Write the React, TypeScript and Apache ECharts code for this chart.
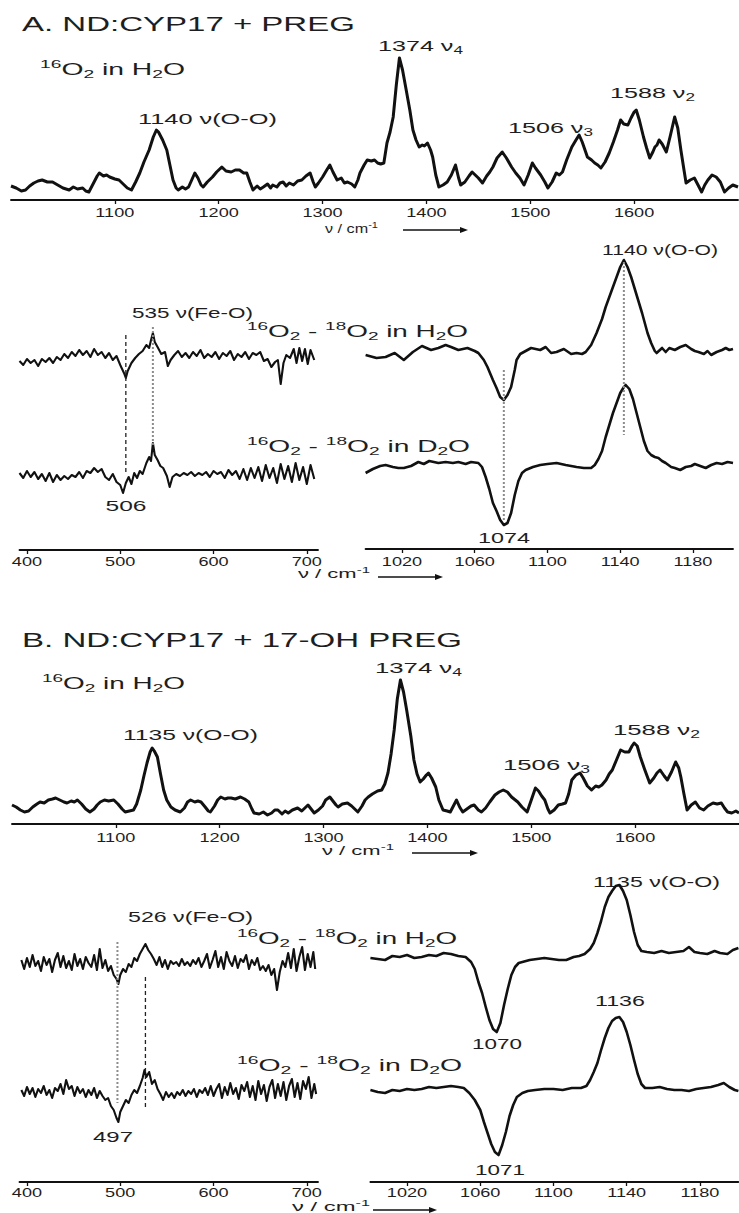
import React, { useEffect, useRef } from "react";
import * as echarts from "echarts";

const W = 739;
const H = 1213;
const FONT = '"Liberation Sans", Arial, Helvetica, sans-serif';

// ---------- tick values ----------
const ticksTop = [1100, 1200, 1300, 1400, 1500, 1600];
const ticksLow = [400, 500, 600, 700];
const ticksHigh = [1020, 1060, 1100, 1140, 1180];

// ---------- A: ND:CYP17 + PREG ----------
const aTop = [[1000,14],[1005,12],[1010,9],[1014,10],[1018,14],[1022,17],[1026,19],[1030,20],[1035,18],[1040,18],[1045,15],[1050,12],[1056,10],[1060,13],[1064,11],[1069,12],[1072,9],[1075,8],[1079,16],[1083,24],[1085,27],[1089,24],[1092,25],[1095,23],[1100,21],[1104,20],[1108,16],[1112,12],[1116,10],[1120,18],[1124,27],[1128,38],[1133,50],[1137,63],[1140,70],[1142,68],[1146,60],[1150,50],[1153,35],[1156,20],[1159,12],[1161,10],[1165,13],[1168,11],[1171,13],[1174,20],[1177,27],[1180,22],[1183,15],[1185,13],[1189,18],[1194,23],[1198,28],[1203,33],[1207,29],[1212,28],[1216,30],[1220,30],[1224,27],[1227,27],[1230,18],[1233,10],[1237,14],[1240,11],[1243,13],[1247,16],[1250,12],[1252,15],[1256,13],[1259,17],[1262,18],[1265,14],[1268,17],[1272,15],[1276,19],[1280,20],[1284,24],[1288,27],[1291,18],[1293,13],[1296,17],[1300,23],[1304,30],[1307,35],[1310,28],[1314,20],[1318,22],[1321,17],[1324,18],[1328,16],[1331,13],[1334,20],[1336,27],[1340,35],[1343,40],[1347,39],[1350,40],[1353,37],[1356,36],[1359,37],[1362,57],[1365,68],[1368,83],[1371,115],[1374,142],[1377,130],[1380,113],[1384,90],[1387,70],[1390,60],[1393,53],[1396,55],[1398,54],[1401,57],[1404,50],[1406,43],[1409,25],[1412,13],[1416,15],[1420,18],[1424,25],[1428,35],[1431,22],[1433,15],[1437,18],[1441,24],[1444,28],[1447,25],[1450,22],[1454,17],[1458,24],[1461,28],[1464,33],[1468,42],[1473,48],[1477,42],[1482,33],[1486,27],[1490,22],[1494,15],[1498,25],[1502,37],[1505,32],[1510,25],[1514,18],[1517,12],[1521,18],[1525,27],[1528,25],[1531,28],[1535,40],[1540,53],[1544,60],[1547,65],[1550,58],[1555,43],[1559,40],[1562,37],[1565,35],[1568,32],[1572,38],[1576,47],[1580,58],[1584,70],[1587,80],[1590,76],[1594,75],[1597,82],[1600,88],[1602,90],[1605,80],[1609,63],[1612,52],[1615,42],[1618,48],[1620,53],[1622,55],[1624,60],[1627,56],[1631,48],[1635,65],[1639,83],[1642,72],[1645,50],[1648,30],[1650,17],[1654,20],[1658,22],[1661,16],[1665,8],[1668,15],[1671,20],[1675,25],[1679,23],[1683,18],[1687,8],[1691,12],[1695,15],[1700,13]];

const aLowH2O = [[392,-4],[396,-8],[400,-2],[404,-6],[408,-3],[412,-9],[416,-2],[420,-5],[424,-1],[428,-6],[432,0],[436,-3],[440,3],[444,-1],[448,5],[452,1],[456,7],[460,2],[464,6],[468,0],[472,8],[476,2],[480,5],[484,-1],[488,4],[492,-3],[496,1],[500,-8],[504,-16],[506,-21],[508,-14],[512,-6],[516,-1],[520,3],[524,6],[528,12],[531,9],[533,17],[535,24],[537,15],[540,10],[544,3],[548,5],[551,-9],[554,-3],[558,2],[562,6],[566,0],[570,4],[574,-1],[578,5],[582,1],[586,7],[590,-1],[594,3],[598,0],[602,5],[606,-2],[610,4],[614,1],[618,6],[622,-3],[626,3],[630,0],[634,5],[638,-2],[642,4],[646,2],[650,5],[654,-4],[658,-2],[662,-10],[666,-5],[669,-3],[672,-27],[675,-6],[678,2],[682,-1],[686,8],[689,-6],[692,9],[695,-4],[698,8],[701,-7],[704,7],[708,-3]];

const aLowD2O = [[392,2],[396,-3],[400,4],[404,-2],[408,3],[412,-4],[416,1],[420,-6],[424,2],[428,-7],[432,0],[436,-5],[440,-1],[444,-4],[448,0],[452,-2],[456,3],[460,-3],[464,4],[468,2],[472,7],[476,3],[480,6],[484,-2],[488,-5],[492,1],[496,-7],[500,-10],[503,-18],[506,-8],[509,-2],[512,-9],[515,2],[518,-3],[521,4],[524,1],[528,12],[531,18],[533,14],[535,32],[537,20],[540,15],[543,9],[546,7],[550,-1],[553,-12],[556,-2],[560,1],[564,-1],[568,2],[572,0],[576,3],[580,-1],[584,2],[588,0],[592,3],[596,-2],[600,4],[604,1],[608,3],[612,-3],[616,5],[620,0],[624,4],[628,-4],[632,6],[636,-5],[640,7],[644,-3],[648,8],[652,-6],[656,10],[660,-3],[664,7],[668,-8],[672,11],[676,-4],[680,9],[684,-7],[688,12],[692,-5],[696,8],[700,-9],[704,10],[708,-4]];

const aHighH2O = [[1000,0],[1006,-3],[1011,-2],[1016,2],[1021,-5],[1026,3],[1031,9],[1036,5],[1040,7],[1044,10],[1047,8],[1051,5],[1056,7],[1060,4],[1062,2],[1065,-5],[1067,-12],[1070,-25],[1072,-33],[1074,-42],[1076,-45],[1078,-40],[1080,-32],[1082,-15],[1083,-5],[1085,1],[1087,3],[1091,7],[1096,5],[1099,8],[1102,2],[1105,3],[1109,6],[1113,1],[1116,2],[1119,1],[1121,3],[1124,10],[1127,22],[1130,36],[1132,48],[1135,63],[1138,78],[1140,88],[1142,95],[1144,88],[1146,78],[1149,60],[1152,42],[1155,22],[1157,12],[1159,4],[1160,2],[1163,7],[1165,3],[1167,7],[1170,5],[1173,8],[1176,10],[1179,6],[1181,4],[1183,3],[1186,1],[1188,4],[1190,0],[1193,3],[1196,5],[1198,7],[1200,5],[1202,6]];

const aHighD2O = [[1000,-8],[1004,-4],[1008,-1],[1011,0],[1015,-2],[1018,-3],[1021,-3],[1025,-1],[1029,3],[1032,1],[1035,4],[1040,2],[1044,3],[1048,2],[1051,3],[1055,1],[1058,3],[1062,2],[1064,-2],[1066,-12],[1068,-24],[1070,-38],[1072,-46],[1074,-55],[1076,-60],[1078,-58],[1080,-48],[1082,-30],[1084,-16],[1086,-8],[1088,-5],[1092,-2],[1096,0],[1100,1],[1105,2],[1110,0],[1116,-2],[1120,-3],[1124,-3],[1126,0],[1128,6],[1130,14],[1132,28],[1134,40],[1136,52],[1138,62],[1140,72],[1142,78],[1143,80],[1145,76],[1147,66],[1149,52],[1151,38],[1153,24],[1155,14],[1157,10],[1159,8],[1161,7],[1163,4],[1165,2],[1168,-2],[1170,-3],[1173,-5],[1176,-2],[1179,-1],[1181,1],[1184,-1],[1187,-3],[1190,0],[1193,2],[1196,1],[1199,3],[1202,2]];

// ---------- B: ND:CYP17 + 17-OH PREG ----------
const bTop = [[1000,19],[1004,17],[1008,14],[1012,12],[1016,13],[1020,17],[1024,20],[1027,22],[1031,21],[1035,24],[1039,25],[1042,26],[1046,24],[1050,22],[1053,21],[1057,23],[1060,22],[1063,24],[1067,20],[1071,15],[1075,12],[1079,15],[1082,19],[1085,22],[1089,24],[1093,23],[1098,24],[1102,20],[1106,15],[1109,12],[1113,13],[1117,14],[1120,20],[1124,34],[1127,48],[1130,61],[1133,72],[1135,76],[1137,73],[1140,67],[1143,50],[1146,34],[1149,24],[1153,17],[1157,14],[1162,12],[1166,16],[1169,22],[1172,24],[1176,22],[1179,23],[1182,22],[1186,17],[1189,13],[1191,12],[1195,18],[1198,24],[1201,27],[1205,25],[1208,26],[1211,26],[1215,25],[1220,27],[1224,25],[1228,22],[1231,15],[1233,11],[1238,10],[1242,12],[1246,9],[1250,11],[1253,14],[1256,14],[1260,10],[1263,13],[1266,11],[1270,14],[1275,16],[1279,13],[1282,16],[1285,19],[1288,15],[1291,11],[1295,14],[1299,18],[1302,24],[1306,27],[1309,23],[1312,19],[1314,17],[1318,20],[1323,21],[1327,18],[1330,15],[1333,12],[1337,18],[1340,24],[1343,27],[1347,30],[1352,33],[1356,34],[1359,40],[1362,51],[1365,70],[1368,94],[1371,125],[1374,144],[1377,132],[1380,114],[1384,88],[1387,64],[1390,50],[1393,42],[1396,45],[1399,49],[1401,51],[1404,46],[1408,37],[1411,24],[1415,14],[1419,13],[1422,12],[1425,18],[1428,24],[1431,17],[1434,12],[1438,15],[1442,18],[1445,19],[1449,14],[1452,12],[1456,16],[1460,22],[1465,29],[1469,32],[1473,34],[1477,32],[1481,27],[1487,22],[1491,17],[1496,12],[1500,24],[1504,36],[1507,33],[1510,28],[1513,24],[1516,15],[1518,11],[1522,14],[1526,19],[1530,20],[1533,21],[1536,30],[1539,44],[1543,49],[1547,51],[1550,46],[1554,38],[1558,34],[1562,38],[1565,37],[1568,39],[1572,44],[1575,50],[1578,54],[1582,64],[1586,74],[1590,72],[1594,72],[1597,78],[1599,81],[1602,78],[1605,67],[1609,55],[1614,41],[1618,46],[1621,51],[1624,54],[1628,48],[1631,44],[1635,52],[1639,62],[1642,56],[1644,47],[1647,30],[1650,14],[1654,19],[1658,22],[1662,16],[1666,14],[1670,18],[1675,21],[1679,20],[1683,21],[1686,16],[1689,12],[1693,11],[1697,13],[1700,11]];

const bLowH2O = [[394,3],[397,-6],[400,5],[403,-4],[406,8],[409,-3],[412,2],[415,-8],[418,6],[421,-2],[424,4],[427,-9],[430,3],[433,10],[436,-4],[439,7],[442,-5],[445,2],[448,-7],[451,9],[454,-3],[457,4],[460,-6],[463,6],[466,0],[469,-4],[472,8],[475,-7],[478,14],[481,-5],[484,3],[487,-8],[490,-3],[493,-12],[496,-16],[498,-21],[500,-12],[503,-6],[506,-9],[509,-1],[512,-4],[515,5],[518,2],[521,9],[524,14],[527,19],[530,13],[533,9],[536,4],[539,-2],[542,6],[545,-4],[548,3],[551,-6],[554,2],[557,-1],[560,1],[563,-3],[566,4],[569,-2],[572,1],[575,-3],[578,3],[581,-1],[584,5],[587,-4],[590,2],[593,9],[596,-5],[599,3],[602,12],[605,-4],[608,6],[611,-6],[614,11],[617,2],[620,-3],[623,7],[626,-5],[629,4],[632,1],[635,8],[638,-6],[641,3],[644,-2],[647,5],[650,-7],[653,-3],[656,-8],[659,-2],[662,-12],[665,-6],[668,-27],[671,-9],[674,2],[677,-4],[680,10],[683,-5],[686,14],[689,-8],[692,6],[695,16],[698,-7],[701,9],[704,-4],[707,11],[709,-6]];

const bLowD2O = [[394,2],[397,-4],[400,5],[403,-2],[406,4],[409,-5],[412,3],[415,-1],[418,6],[421,-3],[424,2],[427,-6],[430,4],[433,1],[436,8],[439,-2],[442,12],[445,3],[448,6],[451,-4],[454,5],[457,-1],[460,3],[463,-5],[466,2],[469,-3],[472,4],[475,-6],[478,1],[481,-4],[484,-8],[487,-6],[490,-14],[493,-18],[496,-26],[498,-30],[500,-20],[503,-14],[506,-8],[509,-11],[512,-3],[515,2],[518,-1],[521,6],[524,14],[526,22],[528,15],[531,20],[534,8],[537,12],[540,3],[543,-2],[546,-8],[549,0],[552,-5],[555,-1],[558,-6],[561,0],[564,-3],[567,2],[570,-4],[573,1],[576,-2],[579,3],[582,-5],[585,2],[588,-1],[591,4],[594,-3],[597,6],[600,-4],[603,3],[606,8],[609,-6],[612,5],[615,-3],[618,9],[621,-2],[624,4],[627,-7],[630,7],[633,1],[636,10],[639,-5],[642,6],[645,-8],[648,11],[651,-2],[654,7],[657,-9],[660,5],[663,12],[666,-6],[669,8],[672,-4],[675,10],[678,-8],[681,6],[684,13],[687,-5],[690,9],[693,-7],[696,11],[699,3],[702,15],[705,-6],[708,8],[710,-2]];

const bHighH2O = [[1000,-1],[1004,-2],[1008,-3],[1012,1],[1016,0],[1020,2],[1024,-1],[1028,0],[1032,2],[1036,1],[1040,4],[1044,3],[1048,1],[1052,0],[1055,-5],[1057,-12],[1059,-25],[1061,-36],[1063,-50],[1065,-63],[1067,-72],[1069,-75],[1071,-66],[1073,-48],[1075,-32],[1077,-18],[1079,-10],[1081,-6],[1083,-5],[1087,-3],[1091,-2],[1095,-1],[1099,-2],[1103,-3],[1107,-3],[1111,0],[1114,1],[1117,3],[1120,8],[1122,14],[1124,24],[1126,36],[1128,50],[1130,60],[1132,66],[1134,71],[1136,72],[1138,66],[1140,57],[1142,42],[1144,25],[1146,12],[1148,6],[1151,5],[1155,4],[1159,6],[1163,4],[1167,5],[1171,6],[1174,10],[1177,5],[1180,4],[1184,3],[1188,6],[1191,4],[1195,3],[1198,7],[1201,9]];

const bHighD2O = [[1000,0],[1004,-2],[1008,-3],[1012,0],[1016,-1],[1020,1],[1024,0],[1028,1],[1032,3],[1036,2],[1040,3],[1044,4],[1048,3],[1051,2],[1054,-3],[1057,-10],[1060,-20],[1062,-32],[1064,-43],[1066,-54],[1068,-62],[1070,-65],[1072,-55],[1074,-42],[1076,-26],[1078,-15],[1080,-7],[1083,-3],[1086,-1],[1090,0],[1095,1],[1100,1],[1105,0],[1110,2],[1115,2],[1118,4],[1120,10],[1122,18],[1124,27],[1126,40],[1128,52],[1130,62],[1132,69],[1134,72],[1136,73],[1138,68],[1140,58],[1142,45],[1144,30],[1146,16],[1148,6],[1150,2],[1154,2],[1158,3],[1162,1],[1166,0],[1170,0],[1174,-1],[1178,1],[1182,2],[1186,3],[1190,5],[1193,7],[1196,3],[1199,0],[1201,-1]];

// marked band positions (cm-1)
const markALow = [506, 535];
const markAHigh = [1076, 1142];
const markBLow = [497, 527];

// ---------- layout ----------
type G = { left: number; top: number; width: number; height: number; xmin: number; xmax: number; ymin: number; ymax: number; ticks?: number[]; labelDy?: number };
const GRIDS: G[] = [
  { left: 11, top: 40, width: 727, height: 160, xmin: 1000, xmax: 1700, ymin: 0, ymax: 160, ticks: ticksTop, labelDy: 13 },
  { left: 19.5, top: 317, width: 298.5, height: 80, xmin: 392, xmax: 712, ymin: -40, ymax: 40 },
  { left: 19.5, top: 425, width: 298.5, height: 125, xmin: 392, xmax: 712, ymin: -75, ymax: 50, ticks: ticksLow, labelDy: 12 },
  { left: 365.6, top: 250, width: 367.4, height: 160, xmin: 1000, xmax: 1202, ymin: -55, ymax: 105 },
  { left: 365.6, top: 375, width: 367.4, height: 174, xmin: 1000, xmax: 1202, ymin: -84, ymax: 90, ticks: ticksHigh, labelDy: 13 },
  { left: 12, top: 664, width: 727, height: 160, xmin: 1000, xmax: 1700, ymin: 0, ymax: 160, ticks: ticksTop, labelDy: 14 },
  { left: 19.5, top: 923, width: 298.5, height: 80, xmin: 392, xmax: 712, ymin: -40, ymax: 40 },
  { left: 19.5, top: 1042, width: 298.5, height: 140, xmin: 392, xmax: 712, ymin: -90, ymax: 50, ticks: ticksLow, labelDy: 11 },
  { left: 370.4, top: 870, width: 368, height: 175, xmin: 1000, xmax: 1201, ymin: -88, ymax: 87 },
  { left: 370.4, top: 1005, width: 368, height: 177, xmin: 1000, xmax: 1201, ymin: -92, ymax: 85, ticks: ticksHigh, labelDy: 11 },
];

const TRACES = [
  { data: aTop, g: 0, w: 3 },
  { data: aLowH2O, g: 1, w: 2.1 },
  { data: aLowD2O, g: 2, w: 2.1 },
  { data: aHighH2O, g: 3, w: 2.6 },
  { data: aHighD2O, g: 4, w: 2.6 },
  { data: bTop, g: 5, w: 3 },
  { data: bLowH2O, g: 6, w: 2.1 },
  { data: bLowD2O, g: 7, w: 2.1 },
  { data: bHighH2O, g: 8, w: 2.6 },
  { data: bHighD2O, g: 9, w: 2.6 },
];

const GRAY = { color: "#8c8c8c", dash: [2, 2], width: 2 };
const BLACK = { color: "#222", dash: [4, 3], width: 1.3 };
const DASHES = [
  { nu: markALow[0], g1: 1, v1: 22, g2: 2, v2: 0, s: BLACK },
  { nu: markALow[1], g1: 1, v1: 30, g2: 2, v2: 30, s: GRAY },
  { nu: markAHigh[0], g1: 3, v1: -15, g2: 4, v2: -55, s: GRAY },
  { nu: markAHigh[1], g1: 3, v1: 93, g2: 4, v2: 30, s: GRAY },
  { nu: markBLow[0], g1: 6, v1: 21, g2: 7, v2: -11, s: GRAY },
  { nu: markBLow[1], g1: 6, v1: -14, g2: 7, v2: -16, s: BLACK },
];

type L = { txt: string; left?: number; cx?: number; cy: number; size: number; width?: number; sx?: number };
const LABELS: L[] = [
  { txt: "A. ND:CYP17 + PREG", left: 22, cy: 24, size: 21, width: 333 },
  { txt: "^{16}O_{2} in H_{2}O", left: 40, cy: 69, size: 16, width: 145 },
  { txt: "1140 ν(O-O)", left: 138, cy: 119, size: 15, width: 139 },
  { txt: "1374 ν_{4}", left: 378, cy: 46, size: 15, width: 85 },
  { txt: "1506 ν_{3}", left: 508, cy: 128, size: 15, width: 85 },
  { txt: "1588 ν_{2}", left: 610, cy: 93, size: 15, width: 85 },
  { txt: "ν / cm^{-1}", left: 325, cy: 229, size: 12, width: 53 },
  { txt: "535 ν(Fe-O)", left: 132, cy: 313, size: 15, width: 121 },
  { txt: "^{16}O_{2} - ^{18}O_{2} in H_{2}O", left: 247, cy: 331, size: 16, width: 221 },
  { txt: "506", cx: 126, cy: 506, size: 15, width: 41 },
  { txt: "^{16}O_{2} - ^{18}O_{2} in D_{2}O", left: 247, cy: 446, size: 16, width: 223 },
  { txt: "ν / cm^{-1}", left: 298, cy: 574, size: 12, width: 72 },
  { txt: "1140 ν(O-O)", left: 602, cy: 250, size: 15, width: 116 },
  { txt: "1074", cx: 504, cy: 538, size: 15, width: 52 },
  { txt: "B. ND:CYP17 + 17-OH PREG", left: 22, cy: 640, size: 21, width: 440 },
  { txt: "^{16}O_{2} in H_{2}O", left: 42, cy: 683, size: 16, width: 143 },
  { txt: "1135 ν(O-O)", left: 123, cy: 735, size: 15, width: 135 },
  { txt: "1374 ν_{4}", left: 375, cy: 668, size: 15, width: 87 },
  { txt: "1506 ν_{3}", left: 503, cy: 765, size: 15, width: 87 },
  { txt: "1588 ν_{2}", left: 613, cy: 730, size: 15, width: 87 },
  { txt: "ν / cm^{-1}", left: 322, cy: 851, size: 12, width: 72 },
  { txt: "526 ν(Fe-O)", left: 128, cy: 917, size: 15, width: 125 },
  { txt: "^{16}O_{2} - ^{18}O_{2} in H_{2}O", left: 237, cy: 938, size: 16, width: 220 },
  { txt: "497", cx: 113, cy: 1137, size: 15, width: 40 },
  { txt: "^{16}O_{2} - ^{18}O_{2} in D_{2}O", left: 237, cy: 1065, size: 16, width: 225 },
  { txt: "ν / cm^{-1}", left: 292, cy: 1207, size: 12, width: 78 },
  { txt: "1135 ν(O-O)", left: 593, cy: 882, size: 15, width: 127 },
  { txt: "1070", cx: 497, cy: 1044, size: 15, width: 50 },
  { txt: "1136", cx: 620, cy: 1001, size: 15, width: 50 },
  { txt: "1071", cx: 500, cy: 1170, size: 15, width: 50 },
];

const ARROWS = [
  { x1: 403, x2: 468, y: 230 },
  { x1: 378, x2: 443, y: 577 },
  { x1: 412, x2: 478, y: 853 },
  { x1: 373, x2: 437, y: 1210 },
];

function parseSegs(s: string) {
  const out: { t: string; k?: string }[] = [];
  const re = /\^\{([^}]*)\}|_\{([^}]*)\}|([^^_]+)/g;
  let m: RegExpExecArray | null;
  while ((m = re.exec(s))) {
    if (m[1] !== undefined) out.push({ t: m[1], k: "sup" });
    else if (m[2] !== undefined) out.push({ t: m[2], k: "sub" });
    else out.push({ t: m[3] });
  }
  return out;
}

function buildLabel(ctx: CanvasRenderingContext2D, l: L) {
  const segs = parseSegs(l.txt);
  const small = l.size * 0.68;
  let off = 0;
  const children: any[] = [];
  for (const s of segs) {
    const fs = s.k ? small : l.size;
    const dy = s.k === "sup" ? -l.size * 0.32 : s.k === "sub" ? l.size * 0.3 : 0;
    children.push({
      type: "text",
      x: off,
      y: dy,
      silent: true,
      style: {
        text: s.t,
        fontSize: fs,
        fontFamily: FONT,
        fill: "#1e1e1e",
        textAlign: "left",
        textVerticalAlign: "middle",
        align: "left",
        verticalAlign: "middle",
      },
    });
    ctx.font = `${fs}px ${FONT}`;
    off += ctx.measureText(s.t).width;
  }
  const sx = l.width ? l.width / off : l.sx ?? 1;
  const total = off * sx;
  const left = l.left !== undefined ? l.left : (l.cx ?? 0) - total / 2;
  return { type: "group", x: left, y: l.cy, scaleX: sx, scaleY: 1, silent: true, children };
}

export default function App() {
  const ref = useRef<HTMLDivElement>(null);
  useEffect(() => {
    const el = ref.current;
    if (!el) return;
    const chart = echarts.init(el, null, { renderer: "svg" });
    const grid = GRIDS.map((g) => ({
      left: g.left, top: g.top, width: g.width, height: g.height,
      containLabel: false, outerBoundsMode: "none",
    }));
    const xAxis = GRIDS.map((g, i) => ({
      type: "value", gridIndex: i, min: g.xmin, max: g.xmax, show: !!g.ticks,
      axisLine: { show: true, onZero: false, lineStyle: { color: "#111", width: 1.9 } },
      axisTick: { show: true, inside: false, length: 4, customValues: g.ticks ?? [], lineStyle: { color: "#111", width: 1.3 } },
      axisLabel: { show: false },
      splitLine: { show: false },
    }));
    const yAxis = GRIDS.map((g, i) => ({
      type: "value", gridIndex: i, min: g.ymin, max: g.ymax, show: false, splitLine: { show: false },
    }));
    const series = TRACES.map((t) => ({
      type: "line", xAxisIndex: t.g, yAxisIndex: t.g, data: t.data,
      symbol: "none", showSymbol: false, silent: true,
      lineStyle: { color: "#111", width: t.w, join: "round" }, z: 2,
    }));
    chart.setOption({ animation: false, backgroundColor: "#fff", grid, xAxis, yAxis, series });

    const ctx = document.createElement("canvas").getContext("2d") as CanvasRenderingContext2D;
    const elements: any[] = [];
    GRIDS.forEach((g, i) => {
      if (!g.ticks) return;
      g.ticks.forEach((t) => {
        const p = chart.convertToPixel({ gridIndex: i }, [t, g.ymin]) as number[];
        elements.push(buildLabel(ctx, { txt: String(t), cx: p[0], cy: p[1] + (g.labelDy ?? 12), size: 12.5, sx: 1.45 }));
      });
    });
    DASHES.forEach((d) => {
      const p1 = chart.convertToPixel({ gridIndex: d.g1 }, [d.nu, d.v1]) as number[];
      const p2 = chart.convertToPixel({ gridIndex: d.g2 }, [d.nu, d.v2]) as number[];
      elements.push({
        type: "line", silent: true, z: 5,
        shape: { x1: p1[0], y1: p1[1], x2: p2[0], y2: p2[1] },
        style: { stroke: d.s.color, lineWidth: d.s.width, lineDash: d.s.dash },
      });
    });
    LABELS.forEach((l) => elements.push(buildLabel(ctx, l)));
    ARROWS.forEach((a) => {
      elements.push({ type: "line", silent: true, shape: { x1: a.x1, y1: a.y, x2: a.x2 - 4, y2: a.y }, style: { stroke: "#111", lineWidth: 1.4 } });
      elements.push({ type: "polygon", silent: true, shape: { points: [[a.x2, a.y], [a.x2 - 8, a.y - 3], [a.x2 - 8, a.y + 3]] }, style: { fill: "#111" } });
    });
    chart.setOption({ graphic: { elements } });
    return () => chart.dispose();
  }, []);
  return <div ref={ref} style={{ position: "absolute", left: 0, top: 0, width: W, height: H, background: "#fff" }} />;
}
